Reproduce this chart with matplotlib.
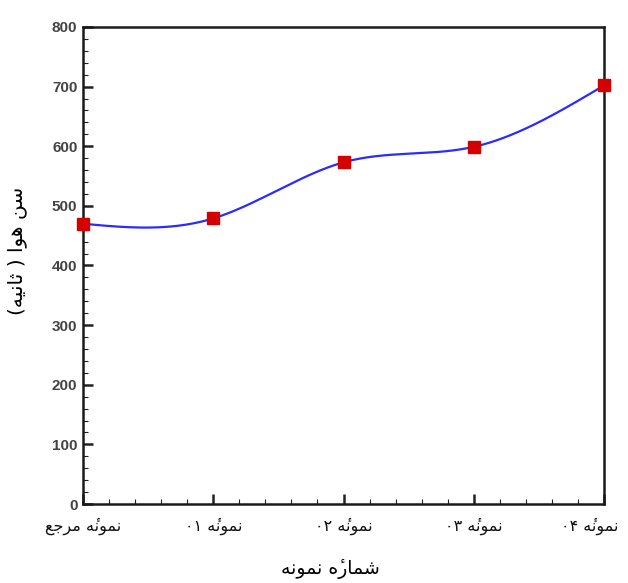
import re
import numpy as np
import matplotlib
matplotlib.use('Agg')
import matplotlib.pyplot as plt
import matplotlib.transforms as mtransforms
from matplotlib.ticker import MultipleLocator

# data
samples = ['نمونۀ مرجع', 'نمونۀ ۰۱', 'نمونۀ ۰۲', 'نمونۀ ۰۳', 'نمونۀ ۰۴']
air_age = [470, 479, 573, 599, 702]
x_title = 'شمارۀ نمونه'
y_title = 'سن هوا ( ثانیه)'

# matplotlib has no arabic shaping, so pick the presentation forms by hand
# isolated, final, initial, medial (None -> letter does not join to the next one)
FORMS = {
    'ا': ('\ufe8d', '\ufe8e', None, None),
    'ث': ('\ufe99', '\ufe9a', '\ufe9b', '\ufe9c'),
    'ج': ('\ufe9d', '\ufe9e', '\ufe9f', '\ufea0'),
    'ر': ('\ufead', '\ufeae', None, None),
    'س': ('\ufeb1', '\ufeb2', '\ufeb3', '\ufeb4'),
    'ش': ('\ufeb5', '\ufeb6', '\ufeb7', '\ufeb8'),
    'ع': ('\ufec9', '\ufeca', '\ufecb', '\ufecc'),
    'م': ('\ufee1', '\ufee2', '\ufee3', '\ufee4'),
    'ن': ('\ufee5', '\ufee6', '\ufee7', '\ufee8'),
    'ه': ('\ufee9', '\ufeea', '\ufeeb', '\ufeec'),
    'و': ('\ufeed', '\ufeee', None, None),
    # heh with yeh above: no presentation form in DejaVu, use heh + hamza mark
    'ۀ': ('\u0654\ufee9', '\u0654\ufeea', None, None),
    'ی': ('\ufbfc', '\ufbfd', '\ufbfe', '\ufbff'),
}


def farsi(text):
    out = []
    for i, ch in enumerate(text):
        if ch not in FORMS:
            out.append(ch)
            continue
        prev = text[i - 1] if i > 0 else ''
        nxt = text[i + 1] if i + 1 < len(text) else ''
        join_prev = prev in FORMS and FORMS[prev][2] is not None
        join_next = FORMS[ch][2] is not None and nxt in FORMS
        iso, fin, ini, med = FORMS[ch]
        if join_prev and join_next:
            out.append(med)
        elif join_prev:
            out.append(fin)
        elif join_next:
            out.append(ini)
        else:
            out.append(iso)
    vis = ''.join(out)[::-1]
    vis = vis.translate(str.maketrans('()', ')('))
    # numbers stay left to right
    vis = re.sub('[۰-۹]+', lambda m: m.group(0)[::-1], vis)
    return vis


def natural_spline(x, y, xs):
    x = np.asarray(x, float)
    y = np.asarray(y, float)
    n = len(x)
    h = np.diff(x)
    A = np.zeros((n, n))
    b = np.zeros(n)
    A[0, 0] = A[-1, -1] = 1
    for i in range(1, n - 1):
        A[i, i - 1] = h[i - 1]
        A[i, i] = 2 * (h[i - 1] + h[i])
        A[i, i + 1] = h[i]
        b[i] = 6 * ((y[i + 1] - y[i]) / h[i] - (y[i] - y[i - 1]) / h[i - 1])
    M = np.linalg.solve(A, b)
    k = np.clip(np.searchsorted(x, xs) - 1, 0, n - 2)
    hk = h[k]
    a = x[k + 1] - xs
    c = xs - x[k]
    return (M[k] * a**3 / (6 * hk) + M[k + 1] * c**3 / (6 * hk)
            + (y[k] / hk - M[k] * hk / 6) * a
            + (y[k + 1] / hk - M[k + 1] * hk / 6) * c)


fig = plt.figure(figsize=(6.28, 5.83), dpi=100)
ax = fig.add_axes([0.1322, 0.1355, 0.8296, 0.8182])

pos = np.arange(len(samples))
xs = np.linspace(0, len(samples) - 1, 300)
ax.plot(xs, natural_spline(pos, air_age, xs), color='#2b2bff', lw=1.6, zorder=3)
ax.plot(pos, air_age, ls='none', marker='s', ms=8.5, color='#d40000',
        mec='#d40000', clip_on=False, zorder=4)

ax.set_xlim(0, len(samples) - 1)
ax.set_ylim(0, 800)
ax.yaxis.set_major_locator(MultipleLocator(100))
ax.yaxis.set_minor_locator(MultipleLocator(20))
ax.xaxis.set_major_locator(MultipleLocator(1))
ax.xaxis.set_minor_locator(MultipleLocator(0.2))

ax.set_xticks(pos)
ax.set_xticklabels([farsi(s) for s in samples], fontsize=11.5,
                   family='DejaVu Sans', color='#111111')
for lab in ax.get_yticklabels():
    lab.set_family('Liberation Sans')
    lab.set_fontweight('bold')
ax.tick_params(axis='y', labelsize=11, labelcolor='#444444', pad=4)
ax.tick_params(which='both', direction='in', top=False, right=False, color='#222222')
ax.tick_params(which='major', length=7, width=1.8)
ax.tick_params(which='minor', length=3.5, width=0.8)
ax.tick_params(axis='x', pad=10)

# last label is pushed left a little so it stays inside the picture
last = ax.get_xticklabels()[-1]
last.set_transform(last.get_transform() +
                   mtransforms.ScaledTranslation(-0.14, 0, fig.dpi_scale_trans))

for sp in ax.spines.values():
    sp.set_linewidth(1.8)
    sp.set_color('#1a1a1a')

ax.set_xlabel(farsi(x_title), fontsize=13.5, family='DejaVu Sans')
ax.xaxis.set_label_coords(0.475, -0.115)
ax.set_ylabel(farsi(y_title), fontsize=14.5, family='DejaVu Sans')
ax.yaxis.set_label_coords(-0.108, 0.53)

plt.savefig('out.png', dpi=100)
